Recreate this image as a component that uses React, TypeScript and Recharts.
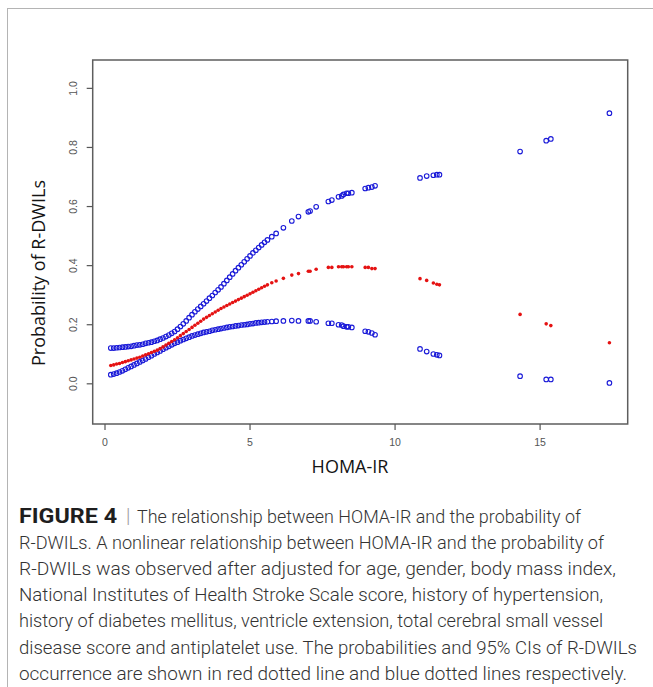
import React from 'react';
import { ScatterChart, Scatter, XAxis, YAxis, ReferenceArea } from 'recharts';

// HOMA-IR values of the observations (x)
const homaIR = [
  0.2, 0.3, 0.4, 0.5, 0.6, 0.7, 0.8, 0.9, 1.0, 1.1, 1.2, 1.3, 1.4, 1.5, 1.6, 1.7, 1.8, 1.9,
  2.0, 2.1, 2.2, 2.3, 2.4, 2.5, 2.6, 2.7, 2.8, 2.9, 3.0, 3.1, 3.2, 3.3, 3.4, 3.5, 3.6, 3.7,
  3.8, 3.9, 4.0, 4.1, 4.2, 4.3, 4.4, 4.5, 4.6, 4.7, 4.8, 4.9, 5.0, 5.1, 5.2, 5.3, 5.4, 5.5,
  5.6, 5.75, 5.9, 6.15,
  6.44, 6.67, 7.01, 7.07, 7.28, 7.7, 7.82, 8.05, 8.16, 8.22, 8.33, 8.39, 8.51, 8.97, 9.08,
  9.2, 9.31,
  10.86, 11.09, 11.32, 11.44, 11.53,
  14.31, 15.21, 15.37, 17.39,
];

// Predicted probability of R-DWILs (red)
const fittedProb = [
  0.062, 0.064, 0.067, 0.069, 0.072, 0.075, 0.078, 0.081, 0.084, 0.087, 0.09, 0.094, 0.098,
  0.102, 0.106, 0.11, 0.114, 0.119, 0.125, 0.131, 0.137, 0.143, 0.149, 0.156, 0.163, 0.17,
  0.177, 0.184, 0.191, 0.198, 0.205, 0.212, 0.219, 0.225, 0.231, 0.237, 0.243, 0.249, 0.255,
  0.26, 0.265, 0.27, 0.275, 0.28, 0.285, 0.29, 0.295, 0.3, 0.305, 0.31, 0.315, 0.32, 0.325,
  0.33, 0.335, 0.342, 0.348, 0.357,
  0.368, 0.373, 0.381, 0.381, 0.388, 0.394, 0.394, 0.396, 0.396, 0.396, 0.396, 0.396, 0.396,
  0.394, 0.394, 0.39, 0.39,
  0.356, 0.35, 0.341, 0.337, 0.335,
  0.235, 0.203, 0.197, 0.139,
];

// Upper 95% CI (blue)
const upperCI = [
  0.121, 0.121, 0.122, 0.123, 0.124, 0.125, 0.126, 0.127, 0.129, 0.131, 0.132, 0.134, 0.137,
  0.139, 0.141, 0.144, 0.147, 0.151, 0.155, 0.16, 0.165, 0.171, 0.177, 0.185, 0.194, 0.203,
  0.213, 0.224, 0.234, 0.244, 0.253, 0.262, 0.271, 0.28, 0.29, 0.299, 0.309, 0.318, 0.328,
  0.339, 0.35, 0.361, 0.372, 0.383, 0.393, 0.403, 0.413, 0.423, 0.433, 0.443, 0.452, 0.461,
  0.47, 0.479, 0.487, 0.498, 0.509, 0.528,
  0.551, 0.566, 0.582, 0.585, 0.599, 0.617, 0.622, 0.633, 0.636, 0.641, 0.645, 0.645, 0.647,
  0.661, 0.664, 0.666, 0.67,
  0.697, 0.703, 0.706, 0.708, 0.708,
  0.786, 0.823, 0.829, 0.916,
];

// Lower 95% CI (blue)
const lowerCI = [
  0.031, 0.033, 0.036, 0.04, 0.044, 0.049, 0.054, 0.059, 0.064, 0.069, 0.074, 0.079, 0.084,
  0.09, 0.095, 0.101, 0.106, 0.111, 0.117, 0.122, 0.127, 0.132, 0.137, 0.141, 0.146, 0.15,
  0.154, 0.158, 0.162, 0.165, 0.168, 0.171, 0.174, 0.176, 0.178, 0.181, 0.183, 0.185, 0.187,
  0.189, 0.191, 0.193, 0.194, 0.196, 0.197, 0.199, 0.2, 0.201, 0.203, 0.204, 0.206, 0.207,
  0.208, 0.209, 0.21, 0.211, 0.212, 0.213,
  0.214, 0.213, 0.213, 0.213, 0.21, 0.205, 0.205, 0.2, 0.199, 0.195, 0.193, 0.193, 0.191,
  0.178, 0.176, 0.172, 0.166,
  0.118, 0.109, 0.101, 0.098, 0.096,
  0.026, 0.015, 0.015, 0.003,
];

const xTicks = [0, 5, 10, 15];
const yTicks = [0, 0.2, 0.4, 0.6, 0.8, 1.0];
const xDomain: [number, number] = [-0.424, 18.02];
const yDomain: [number, number] = [-0.136, 1.096];

const xTitle = 'HOMA-IR';
const yTitle = 'Probability of R-DWILs';

const captionLead = 'FIGURE 4';
const captionLines = [
  'The relationship between HOMA-IR and the probability of',
  'R-DWILs. A nonlinear relationship between HOMA-IR and the probability of',
  'R-DWILs was observed after adjusted for age, gender, body mass index,',
  'National Institutes of Health Stroke Scale score, history of hypertension,',
  'history of diabetes mellitus, ventricle extension, total cerebral small vessel',
  'disease score and antiplatelet use. The probabilities and 95% CIs of R-DWILs',
  'occurrence are shown in red dotted line and blue dotted lines respectively.',
];
const captionStarts = [137, 19, 19, 19, 19, 19, 19];
const captionEnds = [581, 604, 616, 603, 603, 637, 627];

const fitData = homaIR.map((x, i) => ({ x, y: fittedProb[i] }));
const upperData = homaIR.map((x, i) => ({ x, y: upperCI[i] }));
const lowerData = homaIR.map((x, i) => ({ x, y: lowerCI[i] }));

const BlueCircle = (p: any) => (
  <circle cx={p.cx} cy={p.cy} r={2.3} fill="none" stroke="#1a1ad8" strokeWidth={1.1} />
);
const RedDot = (p: any) => <circle cx={p.cx} cy={p.cy} r={1.8} fill="#e51212" />;

const YTick = (p: any) => {
  const { x, y, payload } = p;
  return (
    <text
      transform={`translate(${x - 13},${y}) rotate(-90)`}
      textAnchor="middle"
      dy="0.35em"
      fontFamily="Liberation Sans, Arial, sans-serif"
      fontSize={10.5}
      fill="#555"
    >
      {Number(payload.value).toFixed(1)}
    </text>
  );
};

const captionFont = 'Roboto, "Liberation Sans", sans-serif';
const capTop = 480;
const capBase = 43;
const capStep = 26.1;
const capSize = 18.9;

export default function App() {
  return (
    <div style={{ position: 'absolute', left: 0, top: 0, width: 653, height: 687, background: '#fff', overflow: 'hidden' }}>
      <div
        style={{
          position: 'absolute',
          left: 7,
          top: 8,
          width: 646,
          height: 679,
          borderTop: '1px solid #b4b4b4',
          borderLeft: '1px solid #b4b4b4',
        }}
      />
      <div style={{ position: 'absolute', left: 0, top: 0 }}>
        <ScatterChart width={653} height={470} margin={{ top: 60, right: 25.3, bottom: 6, left: 32.7 }}>
          <XAxis
            type="number"
            dataKey="x"
            domain={xDomain}
            ticks={xTicks}
            allowDataOverflow
            height={40}
            axisLine={false}
            tickSize={6}
            tickMargin={9}
            tickLine={{ stroke: '#555', strokeWidth: 1.2 }}
            tick={{ fontFamily: 'Liberation Sans, Arial, sans-serif', fontSize: 10.5, fill: '#555' }}
          />
          <YAxis
            type="number"
            dataKey="y"
            domain={yDomain}
            ticks={yTicks}
            allowDataOverflow
            width={60}
            axisLine={false}
            tickSize={6}
            tickMargin={0}
            tickLine={{ stroke: '#555', strokeWidth: 1.2 }}
            tick={<YTick />}
          />
          <ReferenceArea
            x1={xDomain[0]}
            x2={xDomain[1]}
            y1={yDomain[0]}
            y2={yDomain[1]}
            fill="none"
            stroke="#5e5e5e"
            strokeWidth={1.5}
            ifOverflow="visible"
          />
          <Scatter name="Upper 95% CI" data={upperData} shape={BlueCircle} isAnimationActive={false} />
          <Scatter name="Lower 95% CI" data={lowerData} shape={BlueCircle} isAnimationActive={false} />
          <Scatter name="Probability" data={fitData} shape={RedDot} isAnimationActive={false} />
        </ScatterChart>
      </div>
      <div
        style={{
          position: 'absolute',
          left: 38 - 150,
          top: 273 - 12,
          width: 300,
          height: 24,
          lineHeight: '24px',
          textAlign: 'center',
          transform: 'rotate(-90deg)',
          fontFamily: '"Open Sans", sans-serif',
          fontSize: 18,
          color: '#141414',
          whiteSpace: 'nowrap',
        }}
      >
        {yTitle}
      </div>
      <div
        style={{
          position: 'absolute',
          left: 250,
          top: 466 - 12,
          width: 200,
          height: 24,
          lineHeight: '24px',
          textAlign: 'center',
          fontFamily: '"Open Sans", sans-serif',
          fontSize: 18,
          color: '#141414',
          whiteSpace: 'nowrap',
        }}
      >
        {xTitle}
      </div>
      <svg style={{ position: 'absolute', left: 0, top: capTop }} width={653} height={687 - capTop}>
        <text
          x={19}
          y={capBase}
          textLength={98}
          lengthAdjust="spacingAndGlyphs"
          fontFamily={captionFont}
          fontWeight={700}
          fontSize={19.5}
          fill="#1e1e1e"
        >
          {captionLead}
        </text>
        <text x={126} y={capBase} fontFamily={captionFont} fontWeight={300} fontSize={19.5} fill="#999">
          |
        </text>
        {captionLines.map((line, i) => (
          <text
            key={i}
            x={captionStarts[i]}
            y={capBase + capStep * i}
            textLength={captionEnds[i] - captionStarts[i]}
            lengthAdjust="spacingAndGlyphs"
            fontFamily={captionFont}
            fontWeight={300}
            fontSize={capSize}
            fill="#333"
          >
            {line}
          </text>
        ))}
      </svg>
    </div>
  );
}
